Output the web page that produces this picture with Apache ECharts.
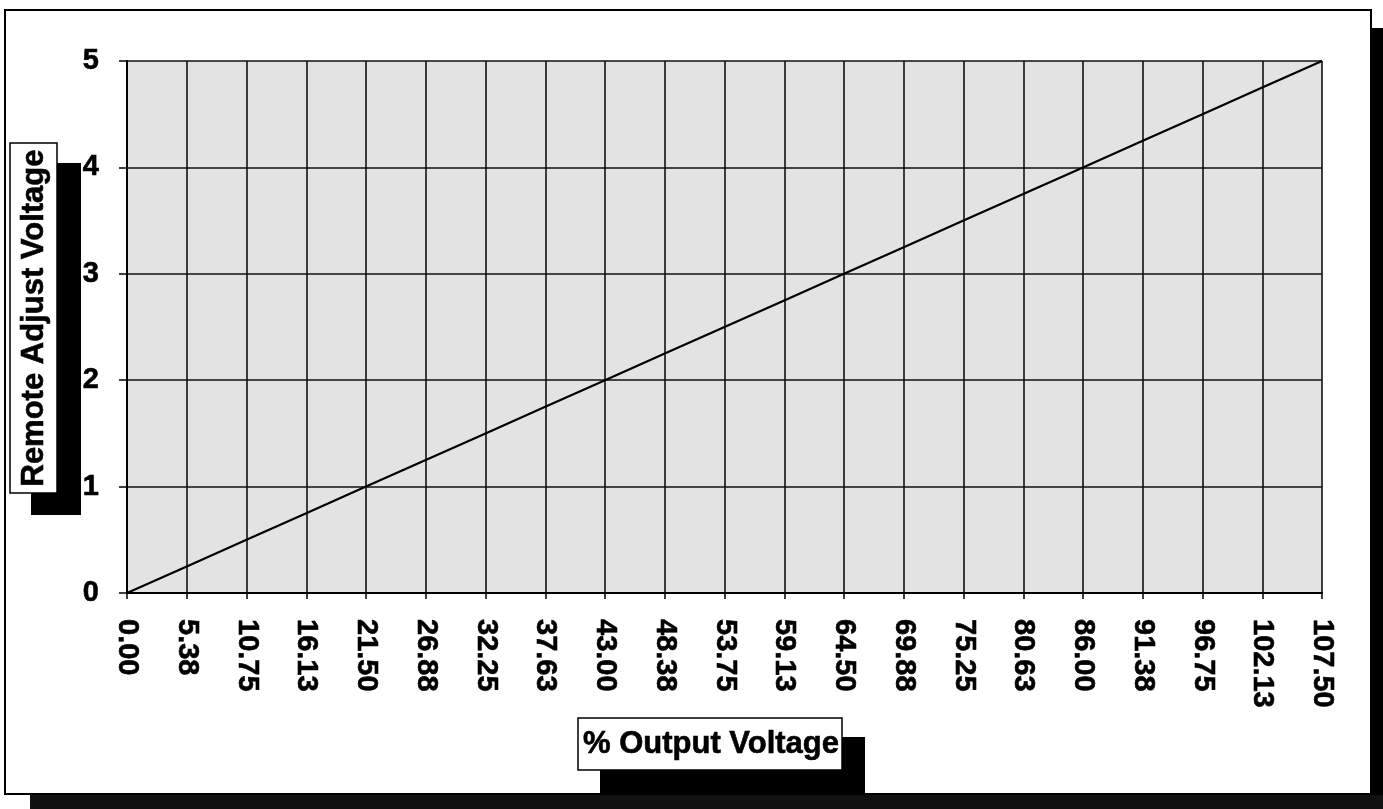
<!DOCTYPE html>
<html lang="en">
<head>
    <meta charset="utf-8">
    <title>Remote Adjust Voltage vs % Output Voltage</title>
    <script src="https://cdn.jsdelivr.net/npm/echarts@6/dist/echarts.min.js"></script>
    <style>
        html, body { margin: 0; padding: 0; background: #fff; }
        #main { width: 1383px; height: 809px; }
    </style>
</head>
<body>
<div id="main"></div>
<script>
    // % output voltage (category ticks)
    var outputPct = ['0.00', '5.38', '10.75', '16.13', '21.50', '26.88', '32.25', '37.63',
        '43.00', '48.38', '53.75', '59.13', '64.50', '69.88', '75.25', '80.63',
        '86.00', '91.38', '96.75', '102.13', '107.50'];
    // remote adjust voltage read at each tick
    var adjustVolts = [0, 0.25, 0.5, 0.75, 1, 1.25, 1.5, 1.75, 2, 2.25, 2.5,
        2.75, 3, 3.25, 3.5, 3.75, 4, 4.25, 4.5, 4.75, 5];
    var yTitle = 'Remote Adjust Voltage';
    var xTitle = '% Output Voltage';

    var font = 'Liberation Sans, Arial, sans-serif';
    var chart = echarts.init(document.getElementById('main'));

    var option = {
        animation: false,
        backgroundColor: '#fff',
        grid: {
            left: 127, right: 61, top: 61, bottom: 216,
            show: true,
            backgroundColor: '#e3e3e3',
            borderWidth: 0
        },
        xAxis: {
            type: 'category',
            boundaryGap: false,
            data: outputPct,
            axisLine: { lineStyle: { color: '#000', width: 2 } },
            axisTick: { show: true, length: 6, lineStyle: { color: '#000', width: 1.5 } },
            axisLabel: {
                rotate: -90, margin: 26, color: '#000',
                fontFamily: font, fontWeight: 'bold', fontSize: 29,
                textBorderColor: '#000', textBorderWidth: 0.6
            },
            splitLine: { show: true, lineStyle: { color: '#111', width: 1.6 } }
        },
        yAxis: {
            type: 'value',
            min: 0, max: 5, interval: 1,
            axisLine: { show: true, lineStyle: { color: '#000', width: 2 } },
            axisTick: { show: true, length: 8, lineStyle: { color: '#000', width: 1.5 } },
            axisLabel: {
                margin: 28, color: '#000',
                fontFamily: font, fontWeight: 'bold', fontSize: 29,
                textBorderColor: '#000', textBorderWidth: 0.6
            },
            splitLine: { show: true, lineStyle: { color: '#111', width: 1.6 } }
        },
        series: [{
            type: 'line',
            data: adjustVolts,
            showSymbol: false,
            lineStyle: { color: '#000', width: 2.2 }
        }],
        graphic: [
            // chart frame and its drop shadow
            { type: 'rect', shape: { x: 1372, y: 28, width: 11, height: 781 }, style: { fill: '#000' } },
            { type: 'rect', shape: { x: 30, y: 795, width: 1353, height: 14 }, style: { fill: '#111' } },
            { type: 'rect', shape: { x: 5, y: 10, width: 1366, height: 784 },
              style: { fill: 'none', stroke: '#000', lineWidth: 2 }, z: -1 },
            // y axis title box
            { type: 'rect', shape: { x: 31, y: 163, width: 50, height: 352 }, style: { fill: '#000' }, z: 5 },
            { type: 'rect', shape: { x: 10, y: 143, width: 47, height: 350 },
              style: { fill: '#fff', stroke: '#000', lineWidth: 1.5 }, z: 6 },
            { type: 'text', x: 34, y: 318, rotation: Math.PI / 2, z: 7,
              style: { text: yTitle, font: 'bold 31px ' + font, fill: '#000',
                       stroke: '#000', lineWidth: 0.6,
                       textAlign: 'center', textVerticalAlign: 'middle' } },
            // x axis title box
            { type: 'rect', shape: { x: 600, y: 737, width: 265, height: 58 }, style: { fill: '#000' }, z: 5 },
            { type: 'rect', shape: { x: 578, y: 718, width: 264, height: 52 },
              style: { fill: '#fff', stroke: '#000', lineWidth: 1.5 }, z: 6 },
            { type: 'text', x: 711, y: 744, z: 7,
              style: { text: xTitle, font: 'bold 31px ' + font, fill: '#000',
                       stroke: '#000', lineWidth: 0.6,
                       textAlign: 'center', textVerticalAlign: 'middle' } }
        ]
    };
    chart.setOption(option);
</script>
</body>
</html>
